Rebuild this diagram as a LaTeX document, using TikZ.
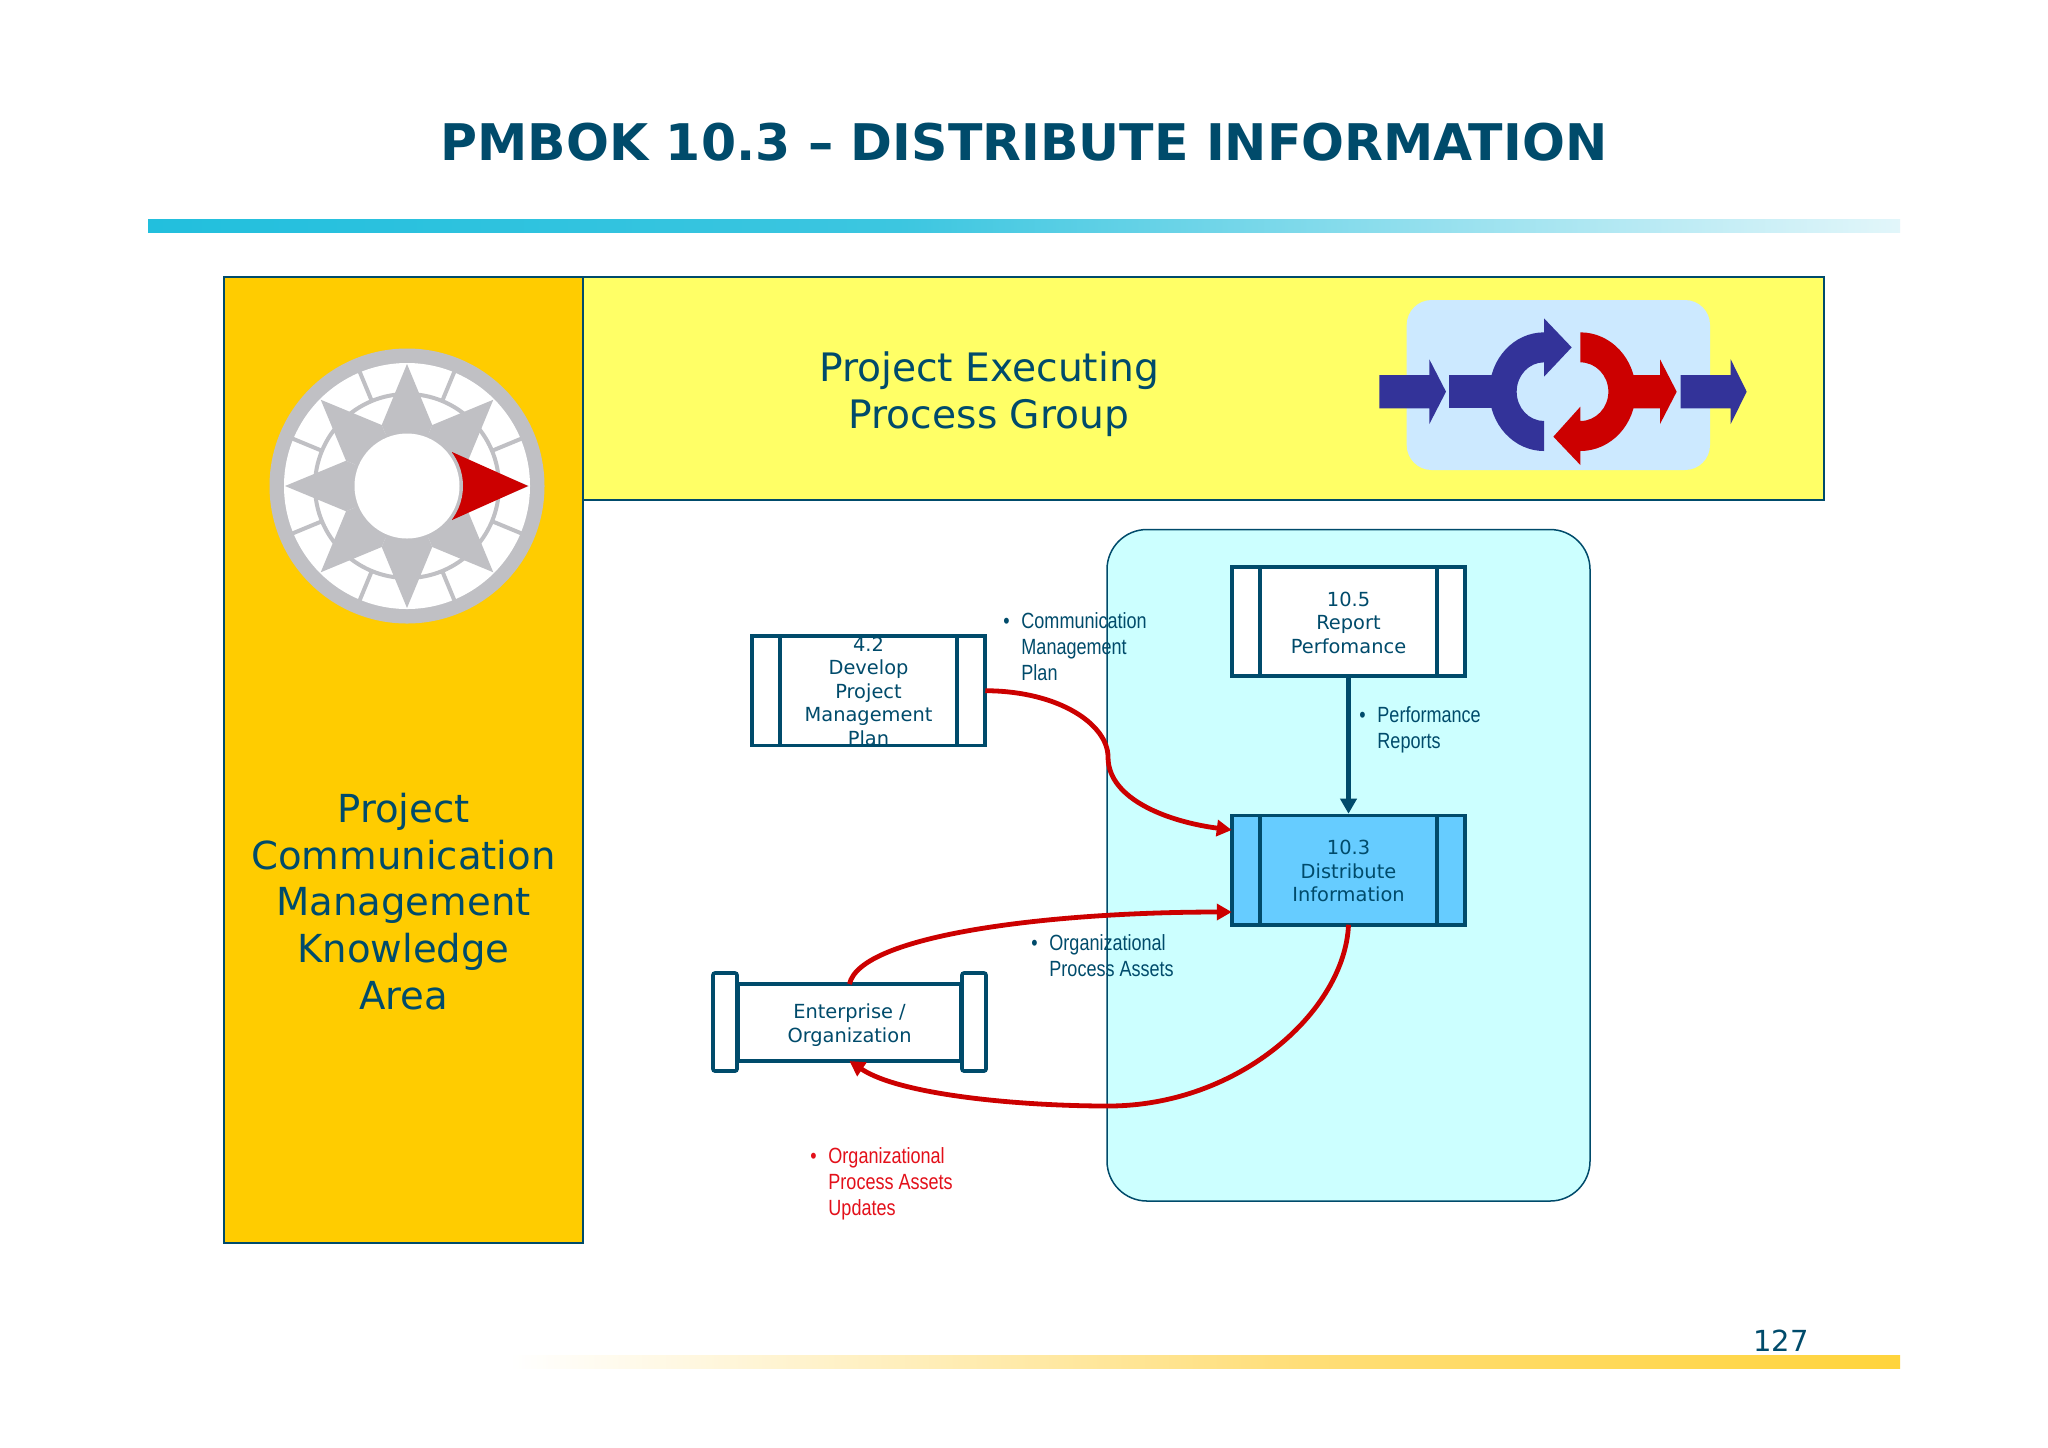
\documentclass[tikz,border=0pt]{standalone}
\usepackage{fontspec}
\usepackage{graphicx}
\setmainfont{DejaVu Sans}
\newfontfamily\lblfont{Liberation Sans}
\usetikzlibrary{arrows.meta}
\definecolor{ink}{HTML}{004B6B}
\definecolor{arrowred}{HTML}{CC0000}
\definecolor{navyarrow}{HTML}{333399}
\definecolor{greycomp}{HTML}{C0C0C4}
\definecolor{goldbox}{HTML}{FFCC00}
\definecolor{yellowbox}{HTML}{FFFF66}
\definecolor{panelcyan}{HTML}{CCFFFF}
\definecolor{procblue}{HTML}{66CCFF}
\definecolor{iconbg}{HTML}{CCE9FF}
\definecolor{redlabel}{HTML}{E3101A}
\newcommand{\lbltab}[1]{\scalebox{0.82}[1]{\fontsize{11}{13}\selectfont\lblfont\begin{tabular}[t]{@{}l@{}l@{}}#1\end{tabular}}}
\newcommand{\blt}{\makebox[11pt][l]{•}}
\newcommand{\innerbars}[1]{%
  \draw[procline] ([xshift=14.2pt]#1.north west) -- ([xshift=14.2pt]#1.south west);
  \draw[procline] ([xshift=-14.2pt]#1.north east) -- ([xshift=-14.2pt]#1.south east);}
\tikzset{
  procline/.style={draw=ink,line width=1.8pt},
  procbox/.style={procline,rectangle,fill=white,minimum width=116.75pt,minimum height=54.7pt,inner sep=0pt,outer sep=0pt},
  proctext/.style={text=ink,align=center,inner sep=0pt,font=\fontsize{9.7}{11.75}\selectfont},
  bigtext/.style={text=ink,align=center,inner sep=0pt,font=\fontsize{19.6}{23.4}\selectfont},
  flowlabel/.style={anchor=north west,inner sep=0pt,text=ink},
  redflow/.style={draw=arrowred,line width=2.4pt,-{Triangle[length=7.5pt,width=8pt]}},
  navyflow/.style={draw=ink,line width=2.3pt,shorten >=0.8pt,-{Triangle[length=7.5pt,width=8pt]}},
  frameline/.style={draw=ink,line width=0.6pt},
}
\begin{document}
\begin{tikzpicture}[x=0.5pt,y=-0.5pt]
\useasboundingbox (0,0) rectangle (2048,1447);
\fill[white] (0,0) rectangle (2048,1447);
% title and bars
\node[inner sep=0pt,text=ink,font=\fontsize{25.25}{29}\selectfont\bfseries] (title) at (1024,142) {PMBOK 10.3 – DISTRIBUTE INFORMATION};
\shade[left color={rgb,255:red,34;green,191;blue,221},right color={rgb,255:red,60;green,198;blue,224}] (148,219) rectangle (900,232.5);
\shade[left color={rgb,255:red,60;green,198;blue,224},right color={rgb,255:red,226;green,246;blue,250}] (899,219) rectangle (1900,232.5);
\shade[left color=white,right color={rgb,255:red,255;green,222;blue,120}] (510,1355) rectangle (1300,1368.5);
\shade[left color={rgb,255:red,255;green,222;blue,120},right color={rgb,255:red,255;green,212;blue,60}] (1299,1355) rectangle (1900,1368.5);
\node[inner sep=0pt,text=ink,font=\fontsize{14.5}{17}\selectfont] (pageno) at (1781,1341) {127};
% panels
\node[frameline,fill=goldbox,rectangle,minimum width=179.5pt,minimum height=483pt,inner sep=0pt,outer sep=0pt] (gold) at (403.5,760) {};
\node[frameline,fill=yellowbox,rectangle,minimum width=620.5pt,minimum height=111.5pt,inner sep=0pt,outer sep=0pt] (yellow) at (1203.5,388.5) {};
\node[bigtext] (pegtext) at (989,394) {Project Executing\\Process Group};
\node[bigtext,font=\fontsize{19.3}{23.4}\selectfont] (katext) at (403.5,901.5) {Project\\Communication\\Management\\Knowledge\\Area};
% compass
\begin{scope}[shift={(407,486)}]
\fill[greycomp] (0,0) circle (137.5);
\fill[white] (0,0) circle (123);
\draw[greycomp,line width=2pt] (0,0) circle (92);
\foreach \a in {22.5,67.5,...,337.5} \draw[greycomp,line width=2pt] (\a:92) -- (\a:124);
\foreach \a in {0,45,...,315} \fill[greycomp] (\a:122) -- (\a+22.5:66) -- (0,0) -- (\a-22.5:66) -- cycle;
\fill[arrowred] (45,-34) -- (121,0) -- (45,34) -- cycle;
\fill[greycomp] (0,0) circle (56);
\fill[white] (0,0) circle (52.5);
\end{scope}
% process icon
\begin{scope}[shift={(1360,280)},x=0.1666667pt,y=-0.1666667pt]
\fill[iconbg,rounded corners=12.5pt] (140,60) rectangle (1050,570);
\fill[navyarrow] (58,285) -- (208,285) -- (208,238) -- (258,335) -- (208,432) -- (208,385) -- (58,385) -- cycle;
\fill[navyarrow] (962,285) -- (1112,285) -- (1112,238) -- (1160,335) -- (1112,432) -- (1112,385) -- (962,385) -- cycle;
\fill[navyarrow] (268,285) -- (410,285) -- (410,385) -- (268,385) -- cycle;
\fill[navyarrow] (552,513) arc [start angle=90,end angle=270,x radius=164,y radius=178] -- (552,115) -- (635,202) -- (552,290) -- (552,247) arc [start angle=270,end angle=90,x radius=82,y radius=88] -- cycle;
\fill[arrowred] (800,285) -- (900,285) -- (900,238) -- (950,335) -- (900,432) -- (900,385) -- (800,385) -- cycle;
\fill[arrowred] (661,157) arc [start angle=-90,end angle=90,x radius=166,y radius=178] -- (661,555) -- (580,470) -- (661,380) -- (661,423) arc [start angle=90,end angle=-90,x radius=84,y radius=88] -- cycle;
\end{scope}
% diagram panel
\draw[frameline,line width=0.75pt,fill=panelcyan,rounded corners=20pt] (1107,529.5) rectangle (1590,1201);
% processes
\node[procbox] (b42) at (868.5,690.7) {};
\innerbars{b42}
\node[procbox] (b105) at (1348.5,621.5) {};
\innerbars{b105}
\node[procbox,fill=procblue] (b103) at (1348.5,870) {};
\innerbars{b103}
\node[procline,rectangle,fill=white,minimum width=111pt,minimum height=38.5pt,inner sep=0pt,outer sep=0pt] (ent) at (849.5,1022.5) {};
\node[procline,rectangle,fill=white,rounded corners=1pt,minimum width=12pt,minimum height=49pt,inner sep=0pt,outer sep=0pt] (capl) at (725,1022) {};
\node[procline,rectangle,fill=white,rounded corners=1pt,minimum width=12pt,minimum height=49pt,inner sep=0pt,outer sep=0pt] (capr) at (974,1022) {};
\node[proctext] (t42) at (868.5,691) {4.2\\Develop\\Project\\Management\\Plan};
\node[proctext] (t105) at (1348.5,622.5) {10.5\\Report\\Perfomance};
\node[proctext] (t103) at (1348.5,871) {10.3\\Distribute\\Information};
\node[proctext] (tent) at (849.5,1025) {Enterprise /\\Organization};
% connectors
\coordinate (m1) at (1108,757);
\coordinate (m2) at (1108,1106);
\draw[navyflow] (b105.south) -- (b103.north);
\draw[redflow] (b42.east) .. controls (1060,691) and (1108,725) .. (m1) .. controls (1108,800) and (1170,822) .. ([yshift=20pt]b103.west);
\draw[redflow] (ent.north) .. controls (860,935) and (1050,912) .. ([yshift=-21pt]b103.west);
\draw[redflow] (b103.south) .. controls (1345,1010) and (1240,1106) .. (m2) .. controls (1020,1106) and (900,1095) .. (ent.south);
% labels
\node[flowlabel] (l1) at (1003,610.3) {\lbltab{\blt & Communication\\ & Management\\ & Plan}};
\node[flowlabel] (l2) at (1359,703.6) {\lbltab{\blt & Performance\\ & Reports}};
\node[flowlabel] (l3) at (1031,931.6) {\lbltab{\blt & Organizational\\ & Process Assets}};
\node[flowlabel,text=redlabel] (l4) at (810,1144.5) {\lbltab{\blt & Organizational\\ & Process Assets\\ & Updates}};
\end{tikzpicture}
\end{document}
